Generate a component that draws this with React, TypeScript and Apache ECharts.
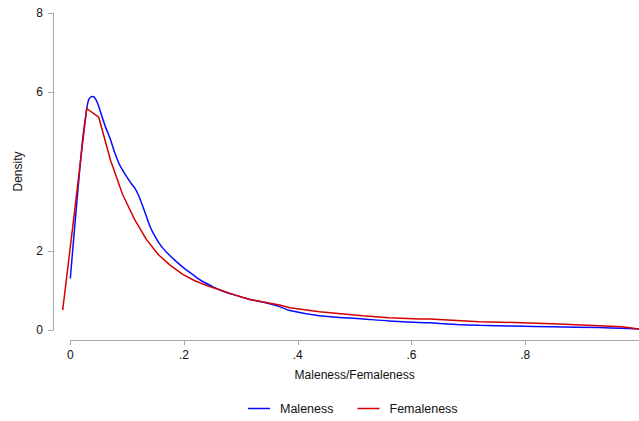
import React, { useEffect, useRef } from "react";
import * as echarts from "echarts";

// kernel density of maleness (blue)
const maleX = [
  0, 0.008, 0.016, 0.022, 0.029, 0.032, 0.036, 0.04, 0.044, 0.048, 0.055, 0.062,
  0.07, 0.078, 0.087, 0.099, 0.107, 0.114, 0.12, 0.128, 0.134, 0.14, 0.146, 0.155,
  0.163, 0.175, 0.187, 0.2, 0.216, 0.232, 0.251, 0.27, 0.29, 0.316, 0.34, 0.368,
  0.386, 0.438, 0.514, 0.56, 0.614, 0.632, 0.68, 0.719, 0.78, 0.848, 0.93, 0.97, 1.0,
];
const maleY = [
  1.3, 2.65, 3.95, 4.85, 5.59, 5.8, 5.88, 5.89, 5.84, 5.72, 5.42, 5.12,
  4.83, 4.48, 4.16, 3.87, 3.7, 3.57, 3.4, 3.1, 2.86, 2.62, 2.44, 2.22,
  2.06, 1.88, 1.72, 1.56, 1.39, 1.23, 1.09, 0.97, 0.88, 0.77, 0.7, 0.59,
  0.49, 0.36, 0.28, 0.23, 0.19, 0.18, 0.14, 0.12, 0.1, 0.08, 0.06, 0.045, 0.025,
];

// kernel density of femaleness (red)
const femaleX = [
  -0.0134, 0.0076, 0.0288, 0.05, 0.071, 0.092, 0.113, 0.134, 0.155, 0.176, 0.197,
  0.218, 0.24, 0.261, 0.2806, 0.3156, 0.368, 0.386, 0.438, 0.514, 0.56, 0.614,
  0.632, 0.719, 0.78, 0.848, 0.93, 0.97, 1.0,
];
const femaleY = [
  0.5, 3.0, 5.59, 5.37, 4.27, 3.42, 2.79, 2.28, 1.9, 1.63, 1.41,
  1.25, 1.12, 1.02, 0.925, 0.77, 0.63, 0.56, 0.46, 0.36, 0.31, 0.28,
  0.28, 0.21, 0.19, 0.16, 0.11, 0.08, 0.025,
];

const yTicks = [0, 2, 6, 8];
const xTicks = [0, 0.2, 0.4, 0.6, 0.8];
const xLabels = ["0", ".2", ".4", ".6", ".8"];

const FONT = "Liberation Sans, Arial, Helvetica, sans-serif";
const AXIS_GRAY = "#a8a8a8";
const BLUE = "#0a0aff";
const RED = "#d40000";

export default function App() {
  const chartRef = useRef<HTMLDivElement>(null);

  useEffect(() => {
    if (!chartRef.current) return;
    const chart = echarts.init(chartRef.current, undefined, { renderer: "svg" });

    chart.setOption({
      animation: false,
      textStyle: { fontFamily: FONT },
      grid: [
        { left: 62, right: 0, top: 13, bottom: 91 },
        { left: 70.3, right: 0, top: 13, bottom: 91 },
      ],
      legend: {
        left: 248,
        top: 402,
        padding: 0,
        icon: "rect",
        itemWidth: 22,
        itemHeight: 1.5,
        itemGap: 24,
        textStyle: { fontSize: 12.5, color: "#111", padding: [0, 0, 0, 5] },
        data: ["Maleness", "Femaleness"],
      },
      xAxis: [
        { gridIndex: 0, type: "value", min: -0.0146, max: 1, show: false },
        {
          gridIndex: 1,
          type: "value",
          min: 0,
          max: 1,
          offset: 10,
          name: "Maleness/Femaleness",
          nameLocation: "middle",
          nameGap: 29,
          nameTextStyle: { fontSize: 12, color: "#111" },
          axisLine: { show: true, onZero: false, lineStyle: { color: AXIS_GRAY, width: 1 } },
          axisTick: { show: true, customValues: xTicks, length: 5, lineStyle: { color: AXIS_GRAY, width: 1 } },
          axisLabel: {
            customValues: xTicks,
            margin: 9,
            fontSize: 12,
            color: "#111",
            formatter: (v: number) => xLabels[xTicks.findIndex((t) => Math.abs(t - v) < 1e-6)] ?? "",
          },
          splitLine: { show: false },
        },
      ],
      yAxis: [
        {
          gridIndex: 0,
          type: "value",
          min: 0,
          max: 8,
          offset: 9,
          name: "Density",
          nameLocation: "middle",
          nameRotate: 90,
          nameGap: 29,
          nameTextStyle: { fontSize: 12, color: "#111" },
          axisLine: { show: true, onZero: false, lineStyle: { color: AXIS_GRAY, width: 1 } },
          axisTick: { show: true, customValues: yTicks, length: 5, lineStyle: { color: AXIS_GRAY, width: 1 } },
          axisLabel: { customValues: yTicks, margin: 10, fontSize: 12, color: "#111" },
          splitLine: { show: false },
        },
        { gridIndex: 1, type: "value", min: 0, max: 8, show: false },
      ],
      series: [
        {
          name: "Maleness",
          type: "line",
          xAxisIndex: 0,
          yAxisIndex: 0,
          data: maleX.map((x, i) => [x, maleY[i]]),
          symbol: "none",
          smooth: 0.3,
          lineStyle: { color: BLUE, width: 1.5 },
          itemStyle: { color: BLUE },
        },
        {
          name: "Femaleness",
          type: "line",
          xAxisIndex: 0,
          yAxisIndex: 0,
          data: femaleX.map((x, i) => [x, femaleY[i]]),
          symbol: "none",
          lineStyle: { color: RED, width: 1.5 },
          itemStyle: { color: RED },
        },
      ],
    });

    return () => chart.dispose();
  }, []);

  return (
    <div
      ref={chartRef}
      style={{ position: "fixed", left: 0, top: 0, width: 639, height: 421, background: "#fff" }}
    />
  );
}
